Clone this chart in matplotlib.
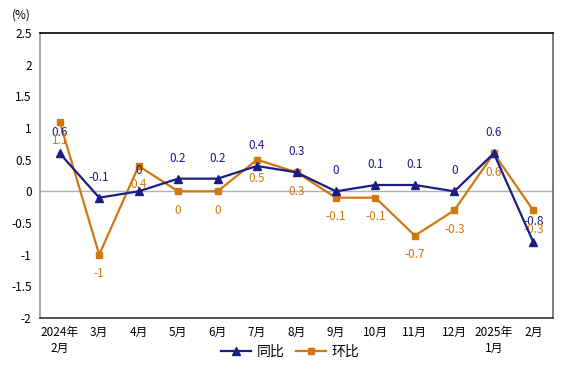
import numpy as np
import matplotlib.pyplot as plt

plt.rcParams['font.family'] = ['Noto Sans CJK SC', 'DejaVu Sans']
plt.rcParams['axes.unicode_minus'] = False

months = ['2024年\n2月', '3月', '4月', '5月', '6月', '7月', '8月', '9月',
          '10月', '11月', '12月', '2025年\n1月', '2月']
yoy = [0.6, -0.1, 0, 0.2, 0.2, 0.4, 0.3, 0, 0.1, 0.1, 0, 0.6, -0.8]
mom = [1.1, -1, 0.4, 0, 0, 0.5, 0.3, -0.1, -0.1, -0.7, -0.3, 0.6, -0.3]

blue = '#1c1c86'
orange = '#d0780f'

fig = plt.figure(figsize=(5.74, 3.74), dpi=100)
ax = fig.add_axes([40 / 574, 1 - 318 / 374, 513 / 574, 285 / 374])
x = np.arange(len(months))

ax.axhline(0, color='#b0b0b0', lw=1, zorder=1)
ax.plot(x, yoy, color=blue, marker='^', ms=6, lw=1.6, label='同比', zorder=4)
ax.plot(x, mom, color=orange, marker='s', ms=4.5, lw=1.6, label='环比', zorder=3)

def fmt(v):
    return '0' if v == 0 else ('%g' % v)

for xi, v in zip(x, yoy):
    ax.annotate(fmt(v), (xi, v), xytext=(0, 10), textcoords='offset points',
                ha='center', va='bottom', fontsize=8.5, color=blue)
for xi, v in zip(x, mom):
    ax.annotate(fmt(v), (xi, v), xytext=(0, -9), textcoords='offset points',
                ha='center', va='top', fontsize=8.5, color=orange)

ax.set_xlim(-0.5, len(months) - 0.5)
ax.set_ylim(-2, 2.5)
ax.set_yticks(np.arange(-2, 2.51, 0.5))
ax.set_yticklabels([fmt(round(t, 1)) for t in np.arange(-2, 2.51, 0.5)], fontsize=8.5)
ax.set_xticks(x)
ax.set_xticklabels(months, fontsize=8.5, linespacing=1.3)
ax.tick_params(length=0, pad=6)

ax.spines['top'].set_color('black')
ax.spines['bottom'].set_color('#333333')
ax.spines['left'].set_color('#999999')
ax.spines['right'].set_color('#666666')
for s in ax.spines.values():
    s.set_linewidth(1.2)

fig.text(12 / 574, 1 - 15 / 374, '(%)', fontsize=8.5, va='center')
fig.legend(loc='center', bbox_to_anchor=(290 / 574, 1 - 352 / 374), ncol=2,
           frameon=False, fontsize=10, handlelength=2.2, columnspacing=0.8,
           handletextpad=0.4)

fig.savefig('out.png', dpi=100)
